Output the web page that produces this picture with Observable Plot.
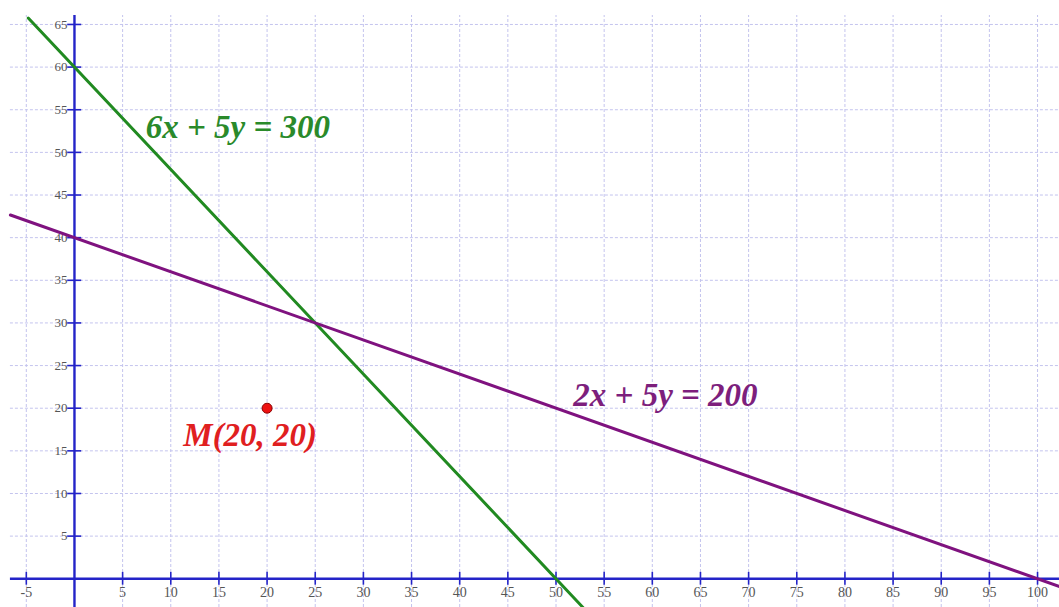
<!DOCTYPE html>
<html>
<head>
<meta charset="utf-8">
<script src="https://cdn.jsdelivr.net/npm/d3@7"></script>
<script src="https://cdn.jsdelivr.net/npm/@observablehq/plot@0.6"></script>
<style>
  html, body { margin: 0; padding: 0; background: #fff; }
  #chart svg { display: block; }
</style>
</head>
<body>
<div id="chart"></div>
<script>
// ---- data ----
const xTicks = [-5, 5, 10, 15, 20, 25, 30, 35, 40, 45, 50, 55, 60, 65, 70, 75, 80, 85, 90, 95, 100];
const yTicks = [5, 10, 15, 20, 25, 30, 35, 40, 45, 50, 55, 60, 65];
const xGrid = [-5, 5, 10, 15, 20, 25, 30, 35, 40, 45, 50, 55, 60, 65, 70, 75, 80, 85, 90, 95, 100];
const yGrid = [5, 10, 15, 20, 25, 30, 35, 40, 45, 50, 55, 60, 65];
const greenLine = [{x: -4.8, y: 65.76}, {x: 52.8, y: -3.36}];     // 6x + 5y = 300
const purpleLine = [{x: -6.65, y: 42.66}, {x: 102.3, y: -0.92}];  // 2x + 5y = 200
const points = [{x: 20, y: 20}];
const labels = [
  {x: 7.4, y: 51.7, text: "6x + 5y = 300", color: "#2a8a2a"},
  {x: 51.8, y: 20.3, text: "2x + 5y = 200", color: "#7d1f7d"},
  {x: 11.3, y: 15.6, text: "M(20, 20)", color: "#e0201f"}
];
const xDomain = [-7.68, 102.28];
const yDomain = [-3.37, 67.81];
const gridLeft = -6.65, gridTop = 66.05;

const axisColor = "#2424c8";
const gridColor = "#c4c4ee";
const serif = "'Liberation Serif', 'Times New Roman', serif";

const chart = Plot.plot({
  width: 1059,
  height: 607,
  margin: 0,
  x: {domain: xDomain, axis: null},
  y: {domain: yDomain, axis: null},
  style: {background: "#fff"},
  marks: [
    Plot.ruleX(xGrid, {x: d => d, y1: yDomain[0], y2: gridTop, stroke: gridColor, strokeWidth: 1, strokeDasharray: "3,2"}),
    Plot.ruleY(yGrid, {y: d => d, x1: gridLeft, x2: xDomain[1], stroke: gridColor, strokeWidth: 1, strokeDasharray: "3,2"}),
    // axes
    Plot.ruleY([0], {x1: gridLeft, x2: xDomain[1], stroke: axisColor, strokeWidth: 2.4}),
    Plot.ruleX([0], {y1: yDomain[0], y2: gridTop, stroke: axisColor, strokeWidth: 2.4}),
    Plot.ruleX(xTicks, {x: d => d, y1: -0.75, y2: 0.75, stroke: axisColor, strokeWidth: 1.6}),
    Plot.ruleY(yTicks, {y: d => d, x1: -0.7, x2: 0.75, stroke: axisColor, strokeWidth: 1.6}),
    Plot.text(xTicks, {x: d => d, y: 0, text: d => String(d), dy: 14, fontSize: 14, fontFamily: serif, fill: "#555"}),
    Plot.text(yTicks, {x: 0, y: d => d, text: d => String(d), dx: -7, textAnchor: "end", fontSize: 13, fontFamily: serif, fill: "#555"}),
    // lines
    Plot.line(greenLine, {x: "x", y: "y", stroke: "#218a21", strokeWidth: 3}),
    Plot.line(purpleLine, {x: "x", y: "y", stroke: "#7f127f", strokeWidth: 3}),
    Plot.dot(points, {x: "x", y: "y", r: 5, fill: "#ee1111", stroke: "#8a0000", strokeWidth: 1}),
    Plot.text(labels, {x: "x", y: "y", text: "text", fill: "color", textAnchor: "start", lineAnchor: "bottom",
      fontSize: 33, fontWeight: "bold", fontStyle: "italic", fontFamily: serif})
  ]
});
document.getElementById("chart").appendChild(chart);
</script>
</body>
</html>
